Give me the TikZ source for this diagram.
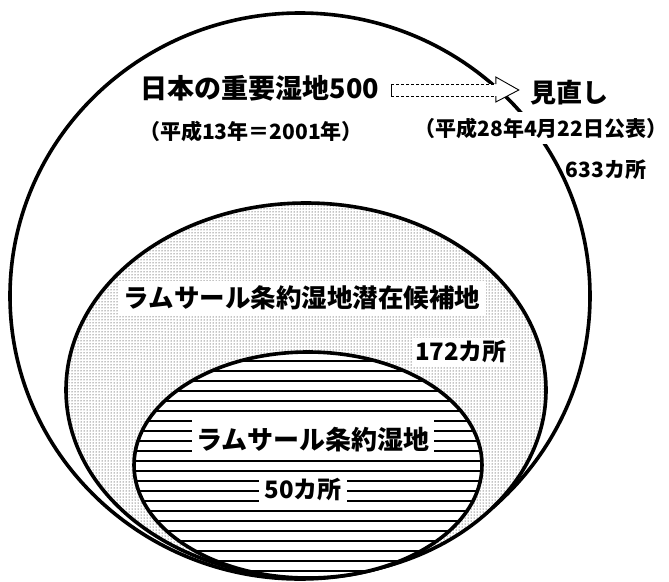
\documentclass[tikz,border=0pt]{standalone}
\usepackage{fontspec}
\newfontfamily\jp{Noto Sans CJK JP}
\usetikzlibrary{patterns,patterns.meta,calc}
\tikzset{
  ring/.style={line width=3.6pt, black},
  lbl/.style={font=\jp\bfseries\fontsize{#1}{#1}\selectfont, inner sep=0pt, text=black},
  masked/.style={fill=white},
  hollowarrow/.style={line width=0.9pt, black},
}
\begin{document}
\begin{tikzpicture}[x=1pt,y=-1pt]
\useasboundingbox (0,0) rectangle (669,581);
% outer region: 633
\draw[ring] (300,296) ellipse [x radius=290pt, y radius=283pt];
% middle region: potential candidates (dotted)
\fill[white] (306,390) ellipse [x radius=240pt, y radius=187pt];
\fill[pattern=dots] (306,390) ellipse [x radius=240pt, y radius=187pt];
\draw[ring] (306,390) ellipse [x radius=240pt, y radius=187pt];
% inner region: Ramsar wetlands (horizontal lines)
\fill[white] (308,465) ellipse [x radius=174pt, y radius=113pt];
\fill[pattern={Lines[angle=0,distance=10pt,line width=1.8pt]}] (308,465) ellipse [x radius=174pt, y radius=113pt];
\draw[ring] (308,465) ellipse [x radius=174pt, y radius=113pt];

% texts
\node[lbl=27pt] (title) at (260,88) {日本の重要湿地500};
\node[lbl=21pt] (titleyear) at (251,131) {（平成13年＝2001年）};
\node[lbl=26pt] (mina) at (569,93) {見直し};
\node[lbl=21pt, masked, inner xsep=1pt, inner ysep=6pt] (minayear) at (541,128) {（平成28年4月22日公表）};
\node[lbl=21pt] (n633) at (606,170) {633カ所};
\node[lbl=25.5pt, masked, inner xsep=6pt, inner ysep=5pt] (cand) at (302,298) {ラムサール条約湿地潜在候補地};
\node[lbl=24pt, masked, inner sep=3pt] (n172) at (461,352) {172カ所};
\node[lbl=26pt, masked, inner xsep=4pt, inner ysep=8pt] (ramsar) at (313,440) {ラムサール条約湿地};
\node[lbl=24pt, masked, inner xsep=5pt, inner ysep=5pt] (n50) at (303,490) {50カ所};

% hollow arrow from title to 見直し
\coordinate (at) at ($(title.east)+(12,2)$);
\coordinate (ah) at ($(mina.west)+(-11,-3)$);
\fill[white] ($(at)+(0,-6)$) -- ($(ah)+(-23,-6)$) -- ($(ah)+(-23,-13)$) -- (ah)
  -- ($(ah)+(-23,12)$) -- ($(ah)+(-23,6)$) -- ($(at)+(0,6)$) -- cycle;
\draw[hollowarrow, densely dashed] ($(at)+(0,-6)$) -- ($(ah)+(-23,-6)$);
\draw[hollowarrow, densely dashed] ($(at)+(0,6)$) -- ($(ah)+(-23,6)$);
\draw[hollowarrow] ($(at)+(0,-6)$) -- ($(at)+(0,6)$);
\draw[hollowarrow, line join=miter] ($(ah)+(-23,-6)$) -- ($(ah)+(-23,-13)$) -- (ah)
  -- ($(ah)+(-23,12)$) -- ($(ah)+(-23,6)$);
\end{tikzpicture}
\end{document}
